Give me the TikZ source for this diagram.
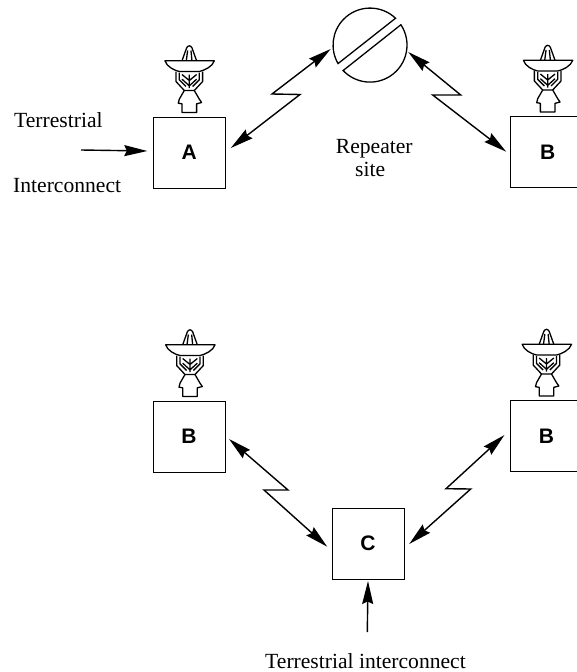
\documentclass[tikz,border=0pt]{standalone}
\usepackage{fontspec}
\setmainfont{Liberation Serif}
\newfontfamily\labelfont{Liberation Sans}
\usetikzlibrary{arrows.meta}
\tikzset{
  site/.style={draw,line width=1pt,minimum width=72pt,minimum height=71pt,inner sep=0pt,font=\labelfont\fontsize{21}{21}\selectfont\bfseries},
  cap text/.style={inner sep=0pt,anchor=base west,font=\fontsize{21.6}{24}\selectfont},
  tipline/.style={line width=1.4pt,line join=miter},
  head/.style={tipline,{Stealth[length=23pt,width=11pt,inset=2.5pt]}-{Stealth[length=23pt,width=11pt,inset=2.5pt]}},
  onehead/.style={tipline,-{Stealth[length=23pt,width=11pt,inset=2.5pt]}},
  dish/.pic={
    \begin{scope}[line width=1.3pt,line join=round,x=0.3333pt,y=-0.3333pt]
      \draw (-22,-167) -- (-8,-206) .. controls (-4,-214) and (4,-214) .. (8,-206) -- (22,-167);
      \draw (-9,-167) -- (-5,-198) (8,-167) -- (5,-198);
      \draw (-73,-167) -- (75,-167) .. controls (70,-150) and (45,-138) .. (30,-135) -- (-30,-135) .. controls (-45,-138) and (-68,-150) .. (-73,-167) -- cycle;
      \draw (-40,-135) -- (-40,-105) -- (-15,-78) (40,-135) -- (40,-105) -- (15,-78);
      \draw (-30,-132) -- (-30,-110) -- (-10,-90) (30,-132) -- (30,-110) -- (10,-90);
      \draw (-22,-126) -- (0,-108) -- (22,-126) (-22,-112) -- (0,-92) -- (22,-112) (0,-126) -- (0,-85);
      \draw (-15,-78) -- (15,-78) -- (30,-52) -- (37,-42) -- (22,-38) -- (22,-12) -- (-22,-12) -- (-22,-38) -- (-33,-40) -- (-30,-52) -- cycle;
    \end{scope}
  }
}
\begin{document}
\begin{tikzpicture}[x=1pt,y=-1pt]
\path[clip] (0,0) rectangle (577,672);
\node[site] (A) at (189.3,152.5) {A};
\node[site,minimum width=74pt] (B1) at (547.7,152) {B};
\node[site] (B2) at (189,436.5) {B};
\node[site] (B3) at (546.5,436) {B};
\node[site] (C) at (368,543.5) {C};
\node[circle,inner sep=0pt,minimum size=74pt] (R) at (369.7,45) {};
\draw[line width=1.3pt] (R.46.5) arc[start angle=46.5,end angle=210,radius=37pt] -- cycle;
\draw[line width=1.3pt] (R.33.4) arc[start angle=33.4,end angle=-136.6,radius=37pt] -- cycle;
\pic at (A.north) {dish};
\pic at (B1.north) {dish};
\pic at ([xshift=1pt]B2.north) {dish};
\pic at (B3.north) {dish};
\draw[head] ([xshift=5pt,yshift=4.5pt]A.east) -- (300,94.5) -- (272,94) -- ([xshift=-39pt,yshift=-4pt]R.center);
\draw[head] ([xshift=38.5pt,yshift=-7pt]R.center) -- (460.7,95) -- (432.7,95) -- ([xshift=-4pt,yshift=0.3pt]B1.west);
\draw[head] ([xshift=3.5pt,yshift=-2.5pt]B2.east) -- (288,490) -- (264,490) -- ([xshift=-4.3pt,yshift=-3.2pt]C.west);
\draw[head] ([xshift=-5.5pt,yshift=1pt]B3.west) -- (446,488.7) -- (470.7,489) -- ([xshift=4.7pt,yshift=-0.5pt]C.east);
\coordinate (tin) at (81,150);
\coordinate (bin) at (367.3,632);
\draw[onehead] (tin) -- ([xshift=-5.5pt,yshift=1.5pt]A.west);
\draw[onehead] (bin) -- ([yshift=-1.5pt]C.south);
\node[cap text] (t1) at (14,127.7) {Terrestrial};
\node[cap text] (t2) at (13,192.7) {Interconnect};
\node[cap text] (t3) at (335.7,153) {Repeater};
\node[cap text] (t4) at (355,176) {site};
\node[cap text] (t5) at (265,668) {Terrestrial interconnect};
\end{tikzpicture}
\end{document}
